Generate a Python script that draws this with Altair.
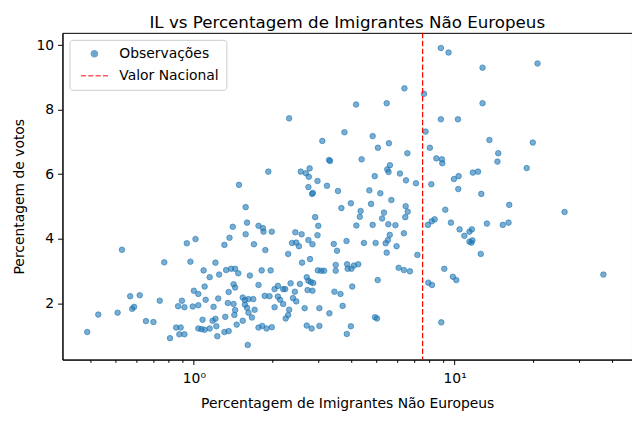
import altair as alt
import pandas as pd

# Observed values: share of non-European immigrants (%) and vote share (%)
obs_x = [
    1.58, 1.60, 1.41, 1.58, 1.37, 1.31, 1.70, 1.015, 0.94, 0.53, 0.77, 0.97, 1.21, 1.09, 1.33, 1.39, 1.44, 1.48,
    1.15, 1.25, 1.64, 1.42, 1.44, 1.36, 1.10, 1.00, 1.04, 1.11, 1.24, 0.57, 0.62, 0.74, 0.90, 0.87, 0.92, 0.99,
    1.04, 1.19, 1.35, 1.42, 1.54, 1.57, 1.62, 1.69, 1.57, 1.44, 1.60, 1.62, 1.67, 0.58, 0.59, 0.43, 0.51, 0.655,
    0.70, 1.08, 1.18, 1.21, 1.32, 1.43, 1.54, 1.46, 0.855, 0.89, 0.88, 0.92, 1.04, 1.07, 1.10, 1.15, 1.22, 1.23,
    1.31, 1.36, 0.39, 0.81, 1.61,
    3.68, 4.00, 4.78, 5.72, 6.49, 6.61, 4.36, 4.33, 2.92, 3.00, 2.98, 4.20, 4.85, 5.27, 5.36, 5.57, 5.93, 6.47,
    6.39, 5.64, 5.55, 5.44, 5.99, 5.49, 4.98, 4.49, 3.85, 3.44, 3.54, 2.45, 2.59, 2.75, 2.85, 2.38, 2.47, 2.53,
    2.30, 1.77, 1.84, 1.85, 1.99, 1.88, 2.60, 2.79, 1.82, 1.97, 2.99, 3.08, 3.16, 3.50, 3.50, 3.87, 3.89, 4.02,
    4.11, 4.27, 5.07, 6.10, 6.39, 6.74, 7.20, 7.93, 8.19, 7.90, 8.17, 8.38, 9.13, 8.89, 1.77, 2.04, 2.10, 2.20,
    2.24, 2.35, 2.44, 2.55, 2.71, 2.75, 2.81, 2.73, 2.85, 2.87, 1.87, 1.95, 2.10, 2.14, 2.20, 2.40, 2.47, 2.04,
    2.32, 2.30, 2.25, 2.66, 3.03, 3.31, 3.46, 3.65, 3.72, 4.05, 4.95, 5.04, 1.71, 1.77, 1.83, 1.90, 1.99, 2.71,
    2.83, 3.03, 3.86, 4.00,
    9.21, 16.2, 26.4, 9.68, 10.45, 11.4, 11.65, 10.9, 11.4, 11.6, 11.7, 13.3, 15.3, 16.1, 12.6, 9.85, 10.15, 37.2,
    2.32, 3.78, 3.11, 3.30, 3.33, 1.93, 2.57, 2.69, 2.78, 2.76, 2.98, 3.24, 2.75, 2.84, 2.86, 3.57, 1.49,
    8.86, 9.48, 12.8, 6.42, 7.63, 4.19, 5.49, 12.8, 8.86, 10.3, 4.85, 7.74, 13.6, 5.08, 5.60, 8.04, 14.7, 14.6,
    4.40, 6.59, 8.51, 8.94, 8.97, 5.65, 5.52, 5.58, 4.94, 6.17, 6.51, 7.11, 8.14, 9.94, 10.36, 11.75, 12.3, 4.71,
    5.19, 10.33, 12.66,
    20.8, 19.95, 18.9,
]
obs_y = [
    4.98, 4.50, 4.37, 4.14, 4.03, 3.81, 3.83, 3.99, 3.86, 3.66, 3.27, 3.29, 3.26, 3.02, 3.03, 3.07, 3.07, 2.93,
    2.81, 2.89, 2.86, 2.59, 2.49, 2.35, 2.52, 2.39, 2.29, 2.11, 2.15, 2.22, 2.25, 2.08, 2.08, 1.91, 1.88, 1.90,
    1.94, 1.89, 2.01, 1.98, 2.18, 2.10, 2.13, 2.13, 1.96, 1.79, 1.86, 1.71, 1.56, 1.83, 1.89, 1.65, 1.71, 1.45,
    1.42, 1.49, 1.46, 1.52, 1.58, 1.64, 1.46, 1.34, 1.25, 1.25, 1.04, 1.04, 1.22, 1.20, 1.18, 1.22, 1.29, 0.98,
    1.11, 1.14, 1.11, 0.92, 0.71,
    4.95, 5.10, 5.08, 5.20, 5.01, 4.84, 4.86, 4.68, 4.67, 4.40, 4.11, 4.41, 4.43, 4.63, 4.81, 4.45, 4.42, 4.67,
    4.17, 4.12, 3.96, 3.86, 3.77, 3.57, 3.87, 3.87, 3.93, 3.84, 3.63, 4.20, 4.14, 3.96, 3.83, 3.87, 3.88, 3.77,
    3.53, 4.40, 4.33, 4.22, 4.22, 3.65, 3.26, 3.37, 3.02, 3.02, 3.02, 3.01, 3.01, 3.19, 3.01, 3.21, 3.07, 3.07,
    3.17, 3.21, 2.72, 3.10, 3.03, 2.99, 3.50, 2.64, 2.57, 4.43, 4.54, 4.60, 3.07, 1.41, 2.57, 2.44, 2.54, 2.44,
    2.44, 2.62, 2.36, 2.60, 2.81, 2.70, 2.66, 2.41, 2.39, 2.63, 2.23, 2.22, 2.21, 2.11, 1.98, 2.16, 2.06, 1.88,
    1.80, 1.64, 1.53, 1.85, 1.85, 1.69, 2.36, 2.29, 1.92, 2.52, 1.57, 1.53, 1.80, 1.25, 1.30, 1.22, 1.26, 1.31,
    1.22, 1.30, 1.05, 1.29,
    4.90, 5.05, 4.83, 4.50, 4.29, 4.22, 4.29, 4.09, 3.91, 3.88, 3.95, 4.47, 4.43, 4.50, 3.53, 2.82, 2.72, 2.89,
    7.73, 7.30, 7.03, 6.44, 6.41, 6.08, 6.08, 6.03, 6.18, 5.92, 5.79, 5.64, 5.60, 5.39, 5.42, 5.48, 5.67,
    9.91, 9.77, 9.30, 8.66, 8.49, 8.16, 8.20, 8.20, 7.70, 7.70, 7.18, 7.32, 7.06, 6.82, 6.96, 6.82, 6.65, 6.39,
    6.46, 6.65, 6.49, 6.46, 6.34, 6.28, 6.15, 6.07, 5.94, 6.02, 5.81, 5.72, 5.69, 5.85, 5.94, 6.05, 6.08, 5.50,
    5.41, 5.54, 5.39,
    9.43, 6.98, 6.19,
]
national_value = [7.54]
series_names = ["Observações", "Valor Nacional"]
x_tick_values = [0.4, 0.5, 0.6, 0.7, 0.8, 0.9, 1, 2, 3, 4, 5, 6, 7, 8, 9, 10, 20, 30, 40]
y_tick_values = [2, 4, 6, 8, 10]

obs_df = pd.DataFrame({"x": obs_x, "y": obs_y, "series": series_names[0]})
nat_df = pd.DataFrame({"x": national_value, "series": [series_names[1]]})

FONT = "DejaVu Sans"
dash_path = "M-4.27,0L-2.67,0M-1.94,0L-0.34,0M0.39,0L1.99,0M2.72,0L4.32,0"

color_scale = alt.Scale(domain=series_names, range=["#1f77b4", "#ff0000"])
shape_scale = alt.Scale(domain=series_names, range=["circle", dash_path])
x_scale = alt.Scale(type="log", domain=[0.3134, 47.9], nice=False)
y_scale = alt.Scale(domain=[0.257, 10.38], nice=False, zero=False)

legend = alt.Legend(
    orient="top-left", offset=7, padding=7, fillColor="white", strokeColor="#cccccc",
    cornerRadius=3, labelFont=FONT, labelFontSize=13.9, labelColor="black",
    symbolSize=40, symbolStrokeWidth=1.3, symbolOpacity=0.65, rowPadding=7,
    symbolOffset=11, labelOffset=18,
)

x_axis = alt.Axis(
    values=x_tick_values,
    labelExpr="datum.value == 1 ? '10⁰' : (datum.value == 10 ? '10¹' : '')",
    tickSize={"condition": {"test": "datum.value == 1 || datum.value == 10", "value": 4.9}, "value": 2.8},
    labelOverlap=False, labelFlush=False, labelPadding=7,
    title="Percentagem de Imigrantes Não Europeus", titlePadding=11,
)
y_axis = alt.Axis(
    values=y_tick_values, tickSize=4.9, labelPadding=4,
    title="Percentagem de votos", titlePadding=9,
)

points = alt.Chart(obs_df).mark_point(
    filled=False, fill="#1f77b4", size=31, strokeWidth=1, fillOpacity=0.6, strokeOpacity=0.6
).encode(
    x=alt.X("x:Q", scale=x_scale, axis=x_axis),
    y=alt.Y("y:Q", scale=y_scale, axis=y_axis),
    color=alt.Color("series:N", scale=color_scale, legend=legend, title=None),
    shape=alt.Shape("series:N", scale=shape_scale, legend=legend, title=None),
)

rule = alt.Chart(nat_df).mark_rule(strokeDash=[5.5, 2.4], strokeWidth=1.2).encode(
    x=alt.X("x:Q", scale=x_scale),
    color=alt.Color("series:N", scale=color_scale, legend=legend, title=None),
)

chart = alt.layer(points, rule).properties(
    width=570, height=327,
    padding={"left": 54.5, "top": 24.7, "right": 0, "bottom": 60},
    autosize="none",
    title=alt.TitleParams(
        "IL vs Percentagem de Imigrantes Não Europeus", font=FONT, fontSize=16.7,
        fontWeight="normal", color="black", anchor="middle", frame="group",
        baseline="bottom", offset=4, dy=20,
    ),
).configure(font=FONT).configure_view(
    stroke="black", strokeWidth=1
).configure_axis(
    grid=False, domainColor="black", tickColor="black", labelColor="black", titleColor="black",
    labelFont=FONT, titleFont=FONT, labelFontSize=13.9, titleFontSize=13.9,
    titleFontWeight="normal", domainWidth=1, tickWidth=1,
)

chart.save("out.html", embed_options={"renderer": "svg", "actions": False})
